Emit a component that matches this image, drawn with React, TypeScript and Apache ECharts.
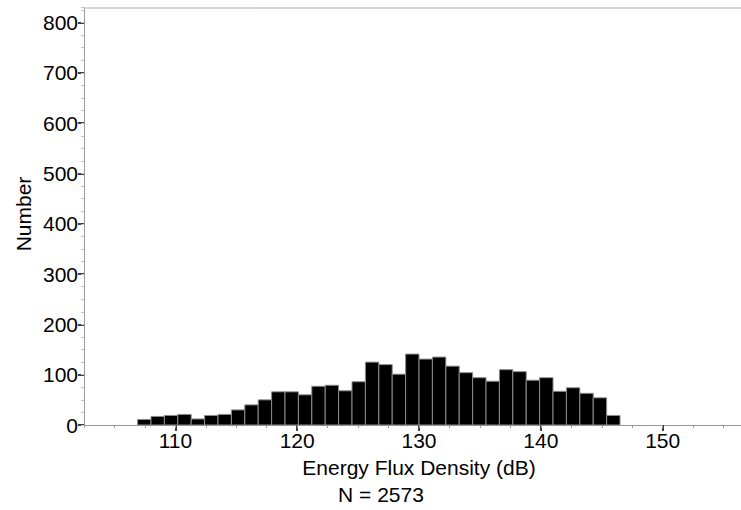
import React, { useEffect, useRef } from "react";
import * as echarts from "echarts";

// Histogram bins: first bin edge and bin width (dB)
const binStart = 106.9;
const binWidth = 1.1;
// Counts per bin
const counts = [
  11, 17, 19, 21, 12, 19, 21, 30, 40, 50, 66, 66, 60, 77, 79, 68, 86, 125,
  120, 101, 141, 131, 135, 117, 104, 94, 87, 110, 106, 89, 94, 67, 74, 63, 54,
  19,
];
const xTickLabels = [110, 120, 130, 140, 150];
const yTickLabels = [0, 100, 200, 300, 400, 500, 600, 700, 800];
const xTitle = "Energy Flux Density (dB)";
const yTitle = "Number";
const sampleNote = "N = 2573";

const FONT = "Liberation Sans, Arial, Helvetica, sans-serif";
const X_MIN = 102.5;
const X_MAX = 156.43;
const Y_MAX = 830;

export default function App() {
  const ref = useRef<HTMLDivElement>(null);

  useEffect(() => {
    if (!ref.current) return;
    const chart = echarts.init(ref.current, null, { renderer: "svg" });

    const data = counts.map((c, i) => [
      binStart + i * binWidth,
      binStart + (i + 1) * binWidth,
      c,
    ]);

    const labelStyle = { color: "#000", fontSize: 21, fontFamily: FONT };

    chart.setOption({
      animation: false,
      backgroundColor: "#fff",
      grid: { left: 84, right: 0, top: 7.5, bottom: 85, containLabel: false },
      xAxis: [
        {
          type: "value",
          position: "bottom",
          min: X_MIN,
          max: X_MAX,
          interval: 2.5,
          axisLine: { show: true, lineStyle: { color: "#9a9a9a", width: 1 } },
          axisTick: {
            show: true,
            length: 6,
            customValues: xTickLabels,
            lineStyle: { color: "#000", width: 1.5 },
          },
          axisLabel: { ...labelStyle, margin: 5, customValues: xTickLabels },
          splitLine: { show: false },
        },
        {
          // minor ticks every 2.5 dB
          type: "value",
          position: "bottom",
          min: X_MIN,
          max: X_MAX,
          interval: 2.5,
          axisLine: { show: false },
          axisTick: { show: true, length: 3, lineStyle: { color: "#999" } },
          axisLabel: { show: false },
          splitLine: { show: false },
        },
        {
          // top frame line
          type: "value",
          position: "top",
          min: X_MIN,
          max: X_MAX,
          axisLine: { show: true, lineStyle: { color: "#c8c8c8", width: 1.5 } },
          axisTick: { show: false },
          axisLabel: { show: false },
          splitLine: { show: false },
        },
      ],
      yAxis: [
        {
          type: "value",
          min: 0,
          max: Y_MAX,
          interval: 100,
          axisLine: { show: true, lineStyle: { color: "#9a9a9a", width: 1 } },
          axisTick: {
            show: true,
            length: 6,
            customValues: yTickLabels,
            lineStyle: { color: "#000", width: 1.5 },
          },
          axisLabel: { ...labelStyle, margin: 6, customValues: yTickLabels },
          splitLine: { show: false },
        },
        {
          // minor ticks every 25
          type: "value",
          position: "left",
          min: 0,
          max: Y_MAX,
          interval: 25,
          axisLine: { show: false },
          axisTick: { show: true, length: 3, lineStyle: { color: "#c4c4c4" } },
          axisLabel: { show: false },
          splitLine: { show: false },
        },
      ],
      series: [
        {
          type: "custom",
          xAxisIndex: 0,
          yAxisIndex: 0,
          encode: { x: [0, 1], y: 2 },
          data,
          renderItem: (params: any, api: any) => {
            const p0 = api.coord([api.value(0), api.value(2)]);
            const p1 = api.coord([api.value(1), 0]);
            return {
              type: "rect",
              shape: {
                x: p0[0],
                y: p0[1],
                width: p1[0] - p0[0],
                height: p1[1] - p0[1],
              },
              style: { fill: "#000", stroke: "#8c8c8c", lineWidth: 1 },
            };
          },
        },
      ],
      graphic: [
        {
          type: "text",
          x: 23,
          y: 214,
          rotation: Math.PI / 2,
          style: {
            text: yTitle,
            fill: "#000",
            font: `21px ${FONT}`,
            textAlign: "center",
            textVerticalAlign: "middle",
          },
        },
        {
          type: "text",
          x: 419,
          y: 467,
          style: {
            text: xTitle,
            fill: "#000",
            font: `21px ${FONT}`,
            textAlign: "center",
            textVerticalAlign: "middle",
          },
        },
        {
          type: "text",
          x: 381,
          y: 494,
          style: {
            text: sampleNote,
            fill: "#000",
            font: `21px ${FONT}`,
            textAlign: "center",
            textVerticalAlign: "middle",
          },
        },
      ],
    });

    return () => chart.dispose();
  }, []);

  return (
    <div
      ref={ref}
      style={{ position: "fixed", left: 0, top: 0, width: 741, height: 510 }}
    />
  );
}
